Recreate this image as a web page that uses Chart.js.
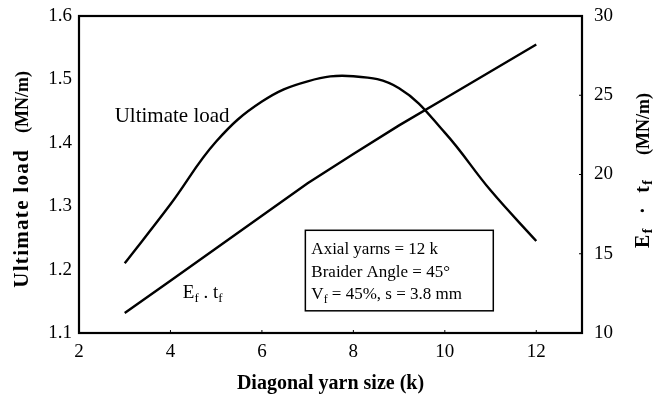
<!DOCTYPE html>
<html lang="en">
<head>
    <meta charset="UTF-8">
    <title>Ultimate load vs diagonal yarn size</title>
    <style>
        html, body { margin: 0; padding: 0; background: #fff; }
        #wrap { width: 657px; height: 396px; }
    </style>
</head>
<body>
<div id="wrap"><canvas id="chart" width="657" height="396"></canvas></div>

<script src="https://cdn.jsdelivr.net/npm/chart.js"></script>
<script>
    // data
    const yarnSize = [3, 4, 5, 6, 7, 8, 9, 10, 11, 12];
    const ultimateLoad = [1.21, 1.303, 1.402, 1.465, 1.497, 1.505, 1.486, 1.416, 1.325, 1.245];
    const efTf = [11.26, 13.3, 15.35, 17.4, 19.45, 21.3, 23.1, 24.8, 26.5, 28.2];
    const xTicks = [2, 4, 6, 8, 10, 12];
    const leftTicks = [1.1, 1.2, 1.3, 1.4, 1.5, 1.6];
    const rightTicks = [10, 15, 20, 25, 30];
    const infoLines = ['Axial yarns = 12 k', 'Braider Angle = 45\u00b0', 'V_f = 45%, s = 3.8 mm'];

    const SERIF = '"Liberation Serif", "Times New Roman", serif';

    // text with '_x' meaning subscript x; optional extra letter spacing
    function drawSub(ctx, text, x, y, size, bold, spacing, draw) {
        const w = bold ? 'bold ' : '';
        const sp = spacing || 0;
        let cx = x;
        for (let i = 0; i < text.length; i++) {
            let ch = text[i], sub = false;
            if (ch === '_') { ch = text[i + 1]; sub = true; i++; }
            ctx.font = w + (sub ? Math.round(size * 0.68) : size) + 'px ' + SERIF;
            if (draw !== false) ctx.fillText(ch, cx, sub ? y + size * 0.22 : y);
            cx += ctx.measureText(ch).width + sp;
        }
        return cx - x - sp;
    }

    // rotated (bottom to top) text centred at cx, cy
    function drawUp(ctx, text, cx, cy, size, bold, spacing) {
        ctx.save();
        ctx.translate(cx, cy);
        ctx.rotate(-Math.PI / 2);
        const tw = drawSub(ctx, text, 0, 0, size, bold, spacing, false);
        drawSub(ctx, text, -tw / 2, 0, size, bold, spacing);
        ctx.restore();
    }

    const extras = {
        id: 'extras',
        afterDraw(chart) {
            const ctx = chart.ctx;
            const a = chart.chartArea;
            const x = chart.scales.x, yL = chart.scales.yL;
            ctx.save();
            ctx.fillStyle = '#000';
            ctx.strokeStyle = '#000';

            // frame
            ctx.lineWidth = 2.2;
            ctx.strokeRect(a.left, a.top, a.right - a.left, a.bottom - a.top);

            // small inward ticks
            ctx.lineWidth = 1;
            xTicks.forEach(v => {
                const px = x.getPixelForValue(v);
                ctx.beginPath(); ctx.moveTo(px, a.bottom); ctx.lineTo(px, a.bottom - 3); ctx.stroke();
            });
            rightTicks.forEach(v => {
                const py = chart.scales.yR.getPixelForValue(v);
                ctx.beginPath(); ctx.moveTo(a.right, py); ctx.lineTo(a.right - 3, py); ctx.stroke();
            });

            // y axis titles, both reading bottom to top
            ctx.textBaseline = 'middle';
            ctx.textAlign = 'left';
            drawUp(ctx, 'Ultimate load', 23, 219, 21, true, 1.3);
            drawUp(ctx, '(MN/m)', 23, 102, 18, true, 0);
            drawUp(ctx, 'E_f  \u00b7  t_f', 644, 214, 20, true, 1.5);
            drawUp(ctx, '(MN/m)', 644, 124, 18, true, 0);

            // curve labels
            ctx.textBaseline = 'alphabetic';
            drawSub(ctx, 'Ultimate load', x.getPixelForValue(2.78), yL.getPixelForValue(1.433), 21, false);
            drawSub(ctx, 'E_f . t_f', x.getPixelForValue(4.27), yL.getPixelForValue(1.155), 19, false);

            // info box
            const bx = x.getPixelForValue(6.95), by = yL.getPixelForValue(1.262);
            const bx2 = x.getPixelForValue(11.06), by2 = yL.getPixelForValue(1.135);
            ctx.lineWidth = 1.5;
            ctx.strokeRect(bx, by, bx2 - bx, by2 - by);
            infoLines.forEach((t, i) => {
                drawSub(ctx, t, bx + 6, by + 24 + i * 22.5, 17, false);
            });
            ctx.restore();
        }
    };

    const noPad = s => { s.paddingTop = 0; s.paddingBottom = 0; s.paddingLeft = 0; s.paddingRight = 0; };

    new Chart(document.getElementById('chart'), {
        type: 'line',
        data: {
            datasets: [
                {
                    label: 'Ultimate load',
                    data: yarnSize.map((v, i) => ({ x: v, y: ultimateLoad[i] })),
                    yAxisID: 'yL',
                    borderColor: '#000',
                    borderWidth: 2.4,
                    pointRadius: 0,
                    tension: 0.4
                },
                {
                    label: 'Ef . tf',
                    data: yarnSize.map((v, i) => ({ x: v, y: efTf[i] })),
                    yAxisID: 'yR',
                    borderColor: '#000',
                    borderWidth: 2.4,
                    pointRadius: 0,
                    tension: 0
                }
            ]
        },
        options: {
            responsive: false,
            animation: false,
            layout: { padding: { top: 16, left: 0, right: 0, bottom: 0 } },
            plugins: { legend: { display: false }, tooltip: { enabled: false } },
            scales: {
                x: {
                    type: 'linear',
                    min: 2, max: 13,
                    afterBuildTicks: s => { s.ticks = xTicks.map(v => ({ value: v })); },
                    afterFit: s => { s.height = 63; noPad(s); },
                    grid: { display: false, drawTicks: false },
                    border: { display: false },
                    ticks: { color: '#000', padding: 8, maxRotation: 0, font: { family: SERIF, size: 19 } },
                    title: {
                        display: true,
                        text: 'Diagonal yarn size (k)',
                        color: '#000',
                        font: { family: SERIF, size: 20, weight: 'bold' },
                        padding: { top: 3, bottom: 0 }
                    }
                },
                yL: {
                    position: 'left',
                    min: 1.1, max: 1.6,
                    afterBuildTicks: s => { s.ticks = leftTicks.map(v => ({ value: v })); },
                    afterFit: s => { s.width = 79; noPad(s); },
                    grid: { display: false, drawTicks: false },
                    border: { display: false },
                    ticks: { color: '#000', padding: 7, font: { family: SERIF, size: 19 }, callback: v => v.toFixed(1) }
                },
                yR: {
                    position: 'right',
                    min: 10, max: 30,
                    afterBuildTicks: s => { s.ticks = rightTicks.map(v => ({ value: v })); },
                    afterFit: s => { s.width = 75; noPad(s); },
                    grid: { display: false, drawTicks: false },
                    border: { display: false },
                    ticks: { color: '#000', padding: 12, font: { family: SERIF, size: 19 } }
                }
            }
        },
        plugins: [extras]
    });
</script>
</body>
</html>
